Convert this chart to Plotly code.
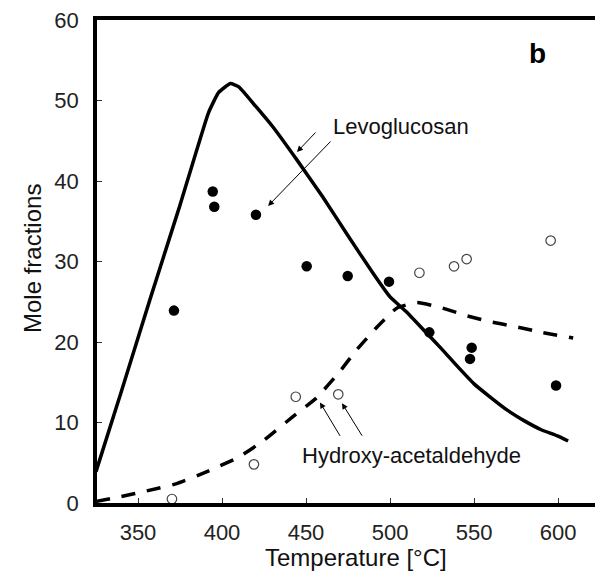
import plotly.graph_objects as go

# Measured yields (mole fractions, %)
levo_T = [371.4, 394.5, 395.4, 420.2, 450.4, 474.8, 499.4, 523.4, 548.6, 547.6, 598.8]
levo_y = [23.9, 38.7, 36.8, 35.8, 29.4, 28.2, 27.5, 21.2, 19.3, 17.9, 14.6]

hyd_T = [370.2, 419.0, 443.9, 469.2, 517.5, 538.1, 545.6, 595.6]
hyd_y = [0.5, 4.8, 13.2, 13.5, 28.6, 29.4, 30.3, 32.6]

# Model predictions
levo_model_T = [325, 340, 357, 375, 392, 398, 405, 410, 420, 430, 445, 460, 475, 490, 500,
                510, 520, 530, 540, 550, 560, 570, 580, 590, 600, 606]
levo_model_y = [3.9, 13.8, 25.2, 37.0, 48.5, 51.0, 52.1, 51.7, 49.3, 46.8, 42.5, 38.0, 33.2, 28.5, 25.6,
                23.7, 21.5, 19.3, 17.0, 14.8, 13.1, 11.5, 10.2, 9.1, 8.3, 7.7]

hyd_model_T = [325, 340, 355, 373, 390, 410, 425, 442, 456, 470, 480, 492, 504, 516, 530,
               545, 560, 575, 590, 609]
hyd_model_y = [0.2, 0.8, 1.5, 2.4, 3.8, 5.7, 7.8, 10.7, 13.0, 16.3, 19.0, 21.8, 24.2, 24.9, 24.3,
               23.3, 22.5, 21.9, 21.2, 20.5]

x_ticks = [350, 400, 450, 500, 550, 600]
y_ticks = [0, 10, 20, 30, 40, 50, 60]

FONT = "Liberation Sans, Arial, sans-serif"
W, H = 595, 576
L, R, T, B = 97, 0, 20, 73
PW, PH = W - L - R, H - T - B

fig = go.Figure()

fig.add_trace(go.Scatter(x=levo_model_T, y=levo_model_y, mode="lines",
                         line=dict(color="black", width=3.5, shape="spline", smoothing=0.4)))
fig.add_trace(go.Scatter(x=hyd_model_T, y=hyd_model_y, mode="lines",
                         line=dict(color="black", width=3.5, dash="14px,12px",
                                   shape="spline", smoothing=0.4)))
fig.add_trace(go.Scatter(x=levo_T, y=levo_y, mode="markers", cliponaxis=False,
                         marker=dict(symbol="circle", size=10.5, color="black")))
fig.add_trace(go.Scatter(x=hyd_T, y=hyd_y, mode="markers", cliponaxis=False,
                         marker=dict(symbol="circle", size=9.5, color="white",
                                     line=dict(color="#444", width=1.2))))

txt = dict(family=FONT, size=22, color="#111")
title_font = dict(family=FONT, size=24, color="#111")
annotations = [
    dict(x=506.5, y=46.8, text="Levoglucosan", showarrow=False, font=txt),
    dict(x=513, y=5.9, text="Hydroxy-acetaldehyde", showarrow=False, font=txt),
    dict(x=588, y=55.9, text="<b>b</b>", showarrow=False,
         font=dict(family=FONT, size=28, color="black")),
    # axis titles placed in pixel terms relative to the plot area
    dict(x=(356 - L) / PW, y=-(557 - (T + PH)) / PH, xref="paper", yref="paper",
         xanchor="center", yanchor="middle", text="Temperature [°C]",
         showarrow=False, font=title_font),
    dict(x=(32 - L) / PW, y=(T + PH - 259) / PH, xref="paper", yref="paper",
         xanchor="center", yanchor="middle", text="Mole fractions", textangle=-90,
         showarrow=False, font=title_font),
]
arrow_style = dict(showarrow=True, arrowhead=2, arrowsize=1.2, arrowwidth=1,
                   arrowcolor="black", text="")
annotations += [
    dict(x=444.6, y=43.6, ax=20, ay=-21, **arrow_style),
    dict(x=427.4, y=36.9, ax=64, ay=-66, **arrow_style),
    dict(x=458.3, y=12.5, ax=21, ay=35, **arrow_style),
    dict(x=471.4, y=12.4, ax=21, ay=34, **arrow_style),
]

fig.update_layout(
    width=W, height=H,
    margin=dict(l=L, r=R, t=T, b=B),
    paper_bgcolor="white", plot_bgcolor="white",
    showlegend=False,
    annotations=annotations,
    font=dict(family=FONT, size=22, color="#222"),
)
fig.update_xaxes(range=[325.6, 622], tickvals=x_ticks, ticks="inside", ticklen=5,
                 tickwidth=1, tickcolor="#333", showgrid=False, zeroline=False,
                 showline=True, linecolor="black", linewidth=3.5, mirror=True,
                 ticklabelstandoff=7, tickfont=dict(family=FONT, size=22, color="#222"))
fig.update_yaxes(range=[0, 60], tickvals=y_ticks, ticks="inside", ticklen=5,
                 tickwidth=1, tickcolor="#333", showgrid=False, zeroline=False,
                 showline=True, linecolor="black", linewidth=3.5,
                 ticklabelstandoff=10, tickfont=dict(family=FONT, size=22, color="#222"))

fig.write_html("out.html")
